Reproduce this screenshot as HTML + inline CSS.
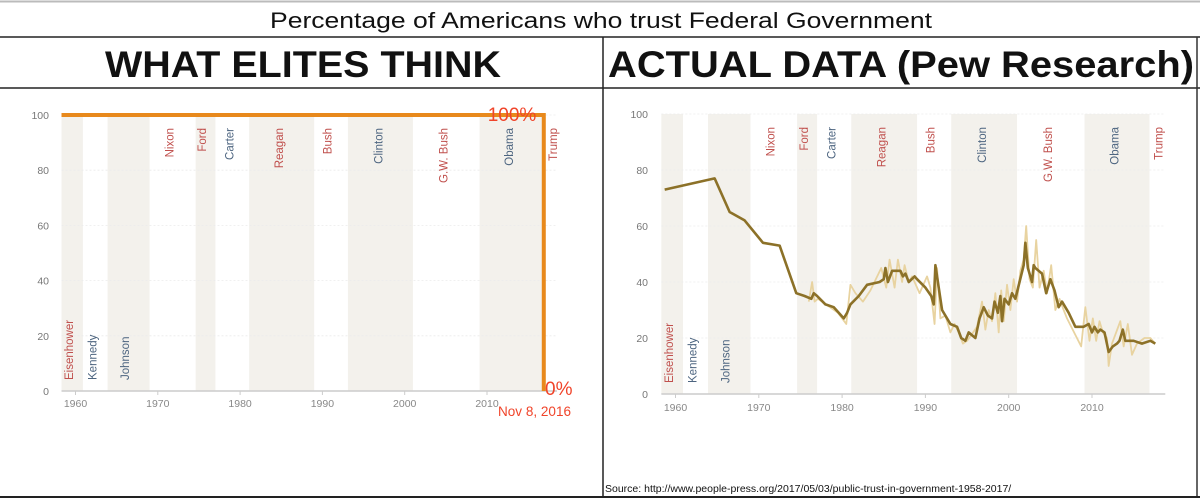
<!DOCTYPE html>
<html><head><meta charset="utf-8">
<style>
html,body{margin:0;padding:0;background:#fff;}
svg{display:block;font-family:"Liberation Sans",sans-serif;}
</style></head>
<body>
<svg width="1200" height="498" viewBox="0 0 1200 498">
  <rect x="0" y="0" width="1200" height="498" fill="#fff"/>
  <line x1="0" y1="1.5" x2="1200" y2="1.5" stroke="#bbb" stroke-width="2"/>
  <text x="601" y="28" text-anchor="middle" font-size="22" fill="#111" textLength="662" lengthAdjust="spacingAndGlyphs">Percentage of Americans who trust Federal Government</text>
  <line x1="0" y1="37" x2="1200" y2="37" stroke="#222" stroke-width="1.5"/>
  <text x="303" y="77" text-anchor="middle" font-size="37" font-weight="bold" fill="#111" textLength="396" lengthAdjust="spacingAndGlyphs">WHAT ELITES THINK</text>
  <text x="901" y="77" text-anchor="middle" font-size="37" font-weight="bold" fill="#111" textLength="586" lengthAdjust="spacingAndGlyphs">ACTUAL DATA (Pew Research)</text>
  <line x1="0" y1="88" x2="1200" y2="88" stroke="#222" stroke-width="1.5"/>
  <line x1="603" y1="37" x2="603" y2="498" stroke="#222" stroke-width="1.5"/>
  <line x1="1197" y1="37" x2="1197" y2="498" stroke="#333" stroke-width="1.5"/>
  <line x1="0" y1="497" x2="1200" y2="497" stroke="#222" stroke-width="2"/>
  <g id="left"></g>
  <g id="right"></g>
  <text x="605" y="492" font-size="10.5" fill="#111">Source: http://www.people-press.org/2017/05/03/public-trust-in-government-1958-2017/</text>
</svg>
<script>
const presidents = ["Eisenhower","Kennedy","Johnson","Nixon","Ford","Carter","Reagan","Bush","Clinton","G.W. Bush","Obama","Trump"];
const presParty = ["r","d","d","r","r","d","r","r","d","r","d","r"];
const presLabelYear = [1959.2,1962.05,1966,1971.4,1975.4,1978.7,1984.7,1990.6,1996.8,2004.7,2012.7,2018.0];
const presLabelBottom = [true,true,true,false,false,false,false,false,false,false,false,false];
const shadeStart = [1958.3,1963.9,1974.6,1981.1,1993.1,2009.1];
const shadeEnd = [1960.9,1969.0,1977.0,1989.0,2001.0,2016.9];
const yTicks = [0,20,40,60,80,100];
const xTicks = [1960,1970,1980,1990,2000,2010];
const elitesYears = [1958.3,2016.9,2016.9];
const elitesValues = [100,100,0];
const trendYears = [1958.7,1964.7,1966.5,1968.3,1970.5,1972.5,1974.5,1975.5,1976.3,1976.6,1977,1978,1979,1980.2,1980.6,1981,1982,1983,1984.5,1985,1985.2,1985.5,1986,1987,1987.3,1987.6,1988,1988.7,1989,1990,1990.7,1991,1991.2,1992,1993,1993.8,1994.3,1994.8,1995.2,1995.6,1996,1996.5,1997,1997.5,1998,1998.3,1998.7,1999,1999.2,1999.5,2000,2000.4,2000.8,2001.3,2001.8,2002,2002.3,2002.8,2003,2003.2,2004,2004.5,2005,2005.5,2006,2006.4,2006.8,2007.2,2008,2009,2009.6,2010,2010.3,2010.7,2011,2011.5,2012,2012.5,2013,2013.3,2013.7,2014,2015,2016,2017,2017.6];
const trendValues = [73,77,65,62,54,53,36,35,34,36,35,32,31,27,29,32,35,39,40,41,45,40,44,44,42,43,40,42,41,38,35,32,46,30,25,24,20,19,22,21,20,27,31,28,27,33,29,35,26,34,32,36,34,40,46,54,45,40,46,45,43,36,41,37,31,33,31,29,24,24,25,22,24,22,23,22,15,17,18,19,23,19,19,18,19,18];
const rawYears = [1976,1976.4,1976.7,1977.1,1979.5,1980.5,1981,1981.6,1982.5,1983.4,1984.7,1985.3,1985.7,1986.3,1986.7,1987.2,1987.5,1988,1988.4,1989.3,1990.2,1990.6,1991.1,1991.4,1991.8,1992.4,1993,1993.5,1994,1994.5,1995,1995.5,1996.2,1996.8,1997.2,1997.6,1998,1998.4,1998.8,1999.1,1999.4,1999.8,2000.2,2000.6,2001,2001.4,2001.8,2002.1,2002.5,2002.9,2003.3,2003.7,2004.2,2004.6,2005.1,2005.6,2006.1,2006.6,2007,2008.7,2009.2,2009.7,2010.1,2010.5,2010.9,2011.3,2011.8,2012,2012.4,2012.9,2013.4,2013.8,2014.3,2014.8,2015.4,2016.3,2017,2017.6];
const rawValues = [33,40,33,34,29,25,39,36,33,37,45,38,48,38,48,40,46,40,42,36,42,38,25,45,27,28,22,25,22,18,19,21,24,33,23,30,26,36,22,37,26,39,30,41,33,44,48,60,41,38,55,38,44,36,46,30,34,30,27,17,31,19,27,19,26,22,20,10,18,22,26,17,25,14,18,20,20,18];

const NS = "http://www.w3.org/2000/svg";
function mk(parent, tag, attrs){ const e=document.createElementNS(NS,tag); for(const k in attrs) e.setAttribute(k,attrs[k]); parent.appendChild(e); return e; }

function drawPanel(g, cfg){
  const X = yr => cfg.x0 + (yr-1960)*cfg.kx;
  const Y = v => cfg.y0 - v*(cfg.y0-cfg.y100)/100;
  shadeStart.forEach((s,i)=>{
    const r = mk(g,"rect",{x:X(s),y:Y(100),width:X(shadeEnd[i])-X(s),height:Y(0)-Y(100),fill:"#f3f1ec"});
    
    
  });
  yTicks.forEach(t=>{
    if(t>0){ const gl = mk(g,"line",{x1:X(cfg.left),x2:X(cfg.right),y1:Y(t),y2:Y(t),stroke:"#ebebeb","stroke-width":0.8,"stroke-dasharray":"2,2"});
      
       }
    const tx = mk(g,"text",{x:cfg.ylx,y:Y(t)+4,"text-anchor":"end","font-size":10.5,fill:"#777"});
    tx.textContent = t;
    
    
  });
  const ax = mk(g,"line",{x1:X(cfg.left),x2:X(cfg.right),y1:Y(0),y2:Y(0),stroke:"#ccc","stroke-width":1.5});
  
  
  xTicks.forEach(t=>{
    mk(g,"line",{x1:X(t),x2:X(t),y1:Y(0),y2:Y(0)+4,stroke:"#ccc"});
    const tx = mk(g,"text",{x:X(t),y:cfg.xly,"text-anchor":"middle","font-size":10.5,fill:"#888"});
    tx.textContent = t;
    
    
  });
  presidents.forEach((p,i)=>{
    const x = X(presLabelYear[i]);
    const col = presParty[i]==="r" ? "#c0504d" : "#4d6580";
    let tx;
    if(presLabelBottom[i]){
      tx = mk(g,"text",{x:0,y:0,"font-size":11.5,fill:col,transform:`translate(${x+4},${cfg.botY}) rotate(-90)`});
    } else {
      tx = mk(g,"text",{x:0,y:0,"font-size":11.5,fill:col,"text-anchor":"end",transform:`translate(${x+4},${cfg.topY}) rotate(-90)`});
    }
    tx.textContent = p;
    
    
  });
  return {X,Y};
}

const L = drawPanel(document.getElementById('left'),{x0:75.5,kx:8.23,y0:391,y100:115,left:1958.3,right:2018.5,ylx:49,xly:407,topY:128,botY:380});
const R = drawPanel(document.getElementById('right'),{x0:675.5,kx:8.33,y0:394,y100:114,left:1958.3,right:2018.8,ylx:648,xly:411,topY:127,botY:383});

const lg = document.getElementById('left');
const ep = mk(lg,"polyline",{points:elitesYears.map((y,i)=>L.X(y)+","+L.Y(elitesValues[i])).join(" "),fill:"none",stroke:"#e8891c","stroke-width":4});


const a1 = mk(lg,"text",{x:512,y:121,"text-anchor":"middle","font-size":19,fill:"#f0442a"}); a1.textContent="100%";


const a2 = mk(lg,"text",{x:545,y:395,"font-size":19,fill:"#f0442a"}); a2.textContent="0%";


const a3 = mk(lg,"text",{x:498,y:416,"font-size":14,fill:"#f0442a",textLength:73,lengthAdjust:"spacingAndGlyphs"}); a3.textContent="Nov 8, 2016";



const rg = document.getElementById('right');
const raw = mk(rg,"polyline",{points:rawYears.map((y,i)=>R.X(y)+","+R.Y(rawValues[i])).join(" "),fill:"none",stroke:"#e8d3a0","stroke-width":1.8,"stroke-linejoin":"round"});


const tr = mk(rg,"polyline",{points:trendYears.map((y,i)=>R.X(y)+","+R.Y(trendValues[i])).join(" "),fill:"none",stroke:"#8c7128","stroke-width":2.6,"stroke-linejoin":"round"});


</script>
</body></html>
